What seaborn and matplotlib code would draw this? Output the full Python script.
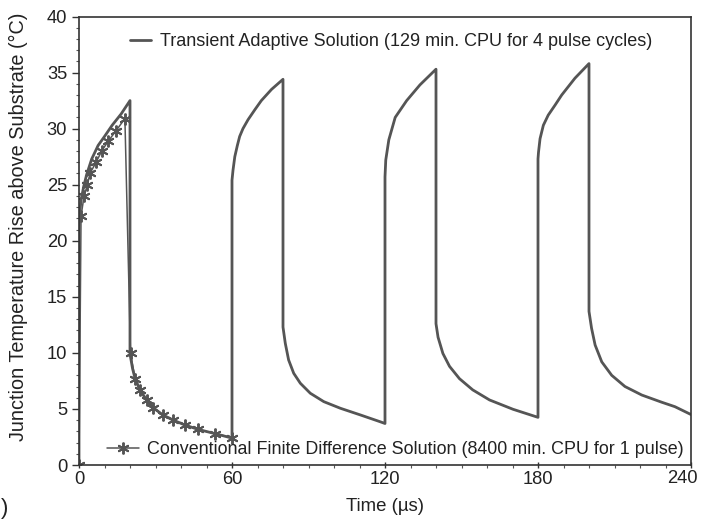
import numpy as np
import pandas as pd
import matplotlib
matplotlib.use("Agg")
import matplotlib.pyplot as plt
from matplotlib.ticker import MultipleLocator
from matplotlib.lines import Line2D
import seaborn as sns

# Transient adaptive solution (4 pulse cycles)
adapt_t = [0, 0, 0.3, 0.8, 1.8, 3, 5, 7.5, 10, 13, 16.5, 20,
           20, 21, 22, 23.9, 26.5, 29.1, 33, 37, 41.6, 46.8, 53.3, 60,
           60, 60.4, 61.1, 62.1, 63, 64.3, 66.3, 69, 71.5, 75.5, 80,
           80, 80.9, 82.2, 84.2, 86.8, 90.7, 96, 102.5, 110.4, 118.2, 120,
           120, 120.3, 121.5, 124, 128.5, 133.7, 140,
           140, 140.8, 142.7, 145.3, 149.2, 154.4, 161, 170.2, 180,
           180, 180.2, 180.8, 182.1, 184, 186.7, 189.3, 194.5, 200,
           200, 201, 202.4, 205, 208.9, 214.1, 220.7, 228.5, 233.7, 240]
adapt_T = [0, 21, 22.5, 23.6, 24.8, 25.9, 27.3, 28.5, 29.3, 30.3, 31.3, 32.5,
           9.9, 8.6, 7.7, 6.7, 5.8, 5.1, 4.45, 4.0, 3.56, 3.17, 2.8, 2.4,
           25.4, 26.3, 27.5, 28.5, 29.3, 30.0, 30.8, 31.7, 32.5, 33.5, 34.4,
           12.3, 10.85, 9.37, 8.18, 7.29, 6.4, 5.65, 5.06, 4.46, 3.85, 3.7,
           25.7, 27.2, 29.0, 31.0, 32.5, 33.9, 35.3,
           12.6, 11.4, 9.95, 8.8, 7.7, 6.7, 5.8, 4.97, 4.25,
           27.3, 27.9, 29.1, 30.3, 31.2, 32.1, 33.0, 34.5, 35.8,
           13.7, 12.2, 10.7, 9.2, 8.0, 7.0, 6.24, 5.6, 5.2, 4.5]

# Conventional finite difference solution (1 pulse)
fd_t = [0, 0.8, 2.0, 3.3, 4.3, 6.7, 8.9, 11.5, 14.5, 18.0,
        20.2, 22.0, 23.9, 26.5, 29.1, 33.0, 37.0, 41.6, 46.8, 53.3, 59.9]
fd_T = [0, 22.2, 24.0, 25.0, 26.0, 27.0, 28.0, 28.9, 29.8, 30.9,
        9.95, 7.7, 6.7, 5.8, 5.1, 4.45, 4.0, 3.56, 3.17, 2.8, 2.45]

x_ticks = [0, 60, 120, 180, 240]
x_ticklabels = ["0", "60", "120", "180", "240"]

adapt_label = "Transient Adaptive Solution (129 min. CPU for 4 pulse cycles)"
fd_label = "Conventional Finite Difference Solution (8400 min. CPU for 1 pulse)"

adapt = pd.DataFrame({"t": adapt_t, "T": adapt_T})
fd = pd.DataFrame({"t": fd_t, "T": fd_T})

sns.set_theme(style="ticks")
plt.rcParams["font.family"] = ["Liberation Sans", "DejaVu Sans"]

col = "#555555"
txt = "#222222"
star = (6, 2, 0)
tick_fs = 13.2

fig = plt.figure(figsize=(7.02, 5.20), dpi=100)
ax = fig.add_axes([79 / 702, 55 / 520, 612 / 702, 448.5 / 520])

sns.lineplot(data=fd, x="t", y="T", ax=ax, sort=False, estimator=None,
             color=col, linewidth=1.1, marker=star, markersize=8.5,
             markeredgewidth=1.4, markeredgecolor=col)
sns.lineplot(data=adapt, x="t", y="T", ax=ax, sort=False, estimator=None,
             color=col, linewidth=2.0)

ax.set_xlim(0, 240)
ax.set_ylim(0, 40)
# last x label is drawn separately, shifted left so it stays on the canvas
ax.set_xticks(x_ticks, labels=x_ticklabels[:-1] + [""])
ax.xaxis.set_minor_locator(MultipleLocator(10))
ax.yaxis.set_major_locator(MultipleLocator(5))
ax.yaxis.set_minor_locator(MultipleLocator(1))
ax.tick_params(axis="both", which="major", labelsize=tick_fs, color="#333333",
               width=1, labelcolor=txt)
ax.tick_params(axis="y", which="major", length=5, pad=3.5)
ax.tick_params(axis="x", which="major", direction="inout", length=5, pad=1.5)
ax.tick_params(axis="both", which="minor", length=2.5, width=0.8, color="#555555")
for s in ax.spines.values():
    s.set_color("#333333")
    s.set_linewidth(1.2)

ax.annotate(x_ticklabels[-1], xy=(x_ticks[-1], 0),
            xycoords=("data", "axes fraction"), xytext=(4.5, -3.6),
            textcoords="offset points", ha="right", va="top",
            fontsize=tick_fs, color=txt)

ax.set_xlabel("Time (\u00b5s)", fontsize=13.4, color=txt)
ax.set_ylabel("Junction Temperature Rise above Substrate (\u00b0C)",
              fontsize=14.3, color=txt)
ax.xaxis.set_label_coords(0.5, -0.074)
ax.yaxis.set_label_coords(-0.083, 0.532)

h1 = [Line2D([], [], color=col, linewidth=2.0)]
h2 = [Line2D([], [], color=col, linewidth=1.1, marker=star, markersize=8.5,
             markeredgewidth=1.4)]
leg1 = ax.legend(h1, [adapt_label], loc="center left",
                 bbox_to_anchor=(0.083, 0.944), frameon=False, fontsize=13,
                 borderpad=0, borderaxespad=0, handlelength=1.2,
                 handletextpad=0.45)
for t in leg1.get_texts():
    t.set_color(txt)
ax.add_artist(leg1)
leg2 = ax.legend(h2, [fd_label], loc="center left",
                 bbox_to_anchor=(0.046, 0.034), frameon=False, fontsize=12.9,
                 borderpad=0, borderaxespad=0, handlelength=1.8,
                 handletextpad=0.4)
for t in leg2.get_texts():
    t.set_color(txt)

fig.text(0.002, 0.012, ")", fontsize=16, color=txt)

fig.savefig("out.png", dpi=100)
